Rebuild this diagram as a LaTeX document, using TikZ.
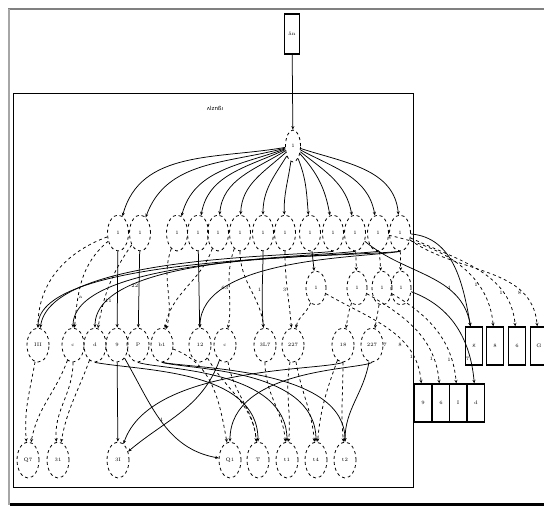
\documentclass[tikz,border=0pt]{standalone}
\usepackage{fontspec}
\newfontfamily\dvfont{DejaVu Sans}
\usetikzlibrary{shapes.geometric,arrows.meta}
\begin{document}
\begin{tikzpicture}[x=1pt,y=-1pt,
  tx/.style={font=\fontsize{5}{6}\selectfont},
  el/.style={ellipse,draw,dashed,line width=0.8pt,inner sep=0pt,tx},
  ra/.style={el,minimum width=21pt,minimum height=36pt},
  rb/.style={el,minimum width=20pt,minimum height=34pt},
  rc/.style={el,minimum width=22pt,minimum height=34pt},
  rd/.style={el,minimum width=22pt,minimum height=36pt},
  bx/.style={rectangle,draw,line width=1.3pt,minimum width=17pt,minimum height=38pt,inner sep=0pt,tx},
  ed/.style={draw,line width=0.75pt,-{Stealth[length=3.5pt,width=3pt]}},
  dd/.style={ed,dashed},
  lb/.style={tx,inner sep=0.5pt}]
\useasboundingbox (0,0) rectangle (544,512);
% frames
\draw[gray,line width=1.2pt] (8,9) -- (544,9);
\draw[gray!70,line width=1.5pt] (9,9) -- (9,505);
\draw[line width=3pt] (10,504) -- (544,504);
\draw[line width=0.9pt] (13,93) rectangle (413,487);
\node[tx] (cl) at (215,108) {{\dvfont\fontsize{5.5}{7}\selectfont ʌlznßı}};
% top node
\node[rectangle,draw,line width=0.4pt,minimum width=15pt,minimum height=40pt,tx] (top) at (292,34) {ån};
\draw[line width=2pt] (top.north west) -- (top.north east);
\draw[line width=2pt] (top.south west) -- (top.south east);
% root
\node[el,minimum width=15pt,minimum height=32pt] (r) at (293,146) {1};
\draw[ed] (top) -- (r);
% row 1
\foreach \n/\x in {1/118,2/140,3/177,4/198,5/218,6/240,7/263,8/285,9/310,10/333,11/355,12/378,13/400}
  \node[ra] (a\n) at (\x,233) {1};
% row 2
\foreach \n/\x in {1/316,2/357,3/382,4/401}
  \node[rb] (b\n) at (\x,288) {1};
% row 3
\foreach \n/\x/\t in {1/38/III,2/73/c,3/95/d,4/117/9,5/138/P,6/162/b1,7/200/12,8/225/c,9/265/3L7,10/293/227,11/343/18,12/372/227}
  \node[rc] (c\n) at (\x,345) {\t};
% bottom
\foreach \n/\x/\t in {1/28/Q7,2/58/31,3/118/3I,4/230/Q1,5/258/T,6/287/t1,7/316/t4,8/345/t2}
  \node[rd] (d\n) at (\x,460) {\t};
% boxes
\foreach \n/\x/\t in {1/474/g,2/495/8,3/517/6,4/539/G}
  \node[bx] (e\n) at (\x,346) {\t};
\foreach \n/\x/\t in {1/423/9,2/441/6,3/458/I,4/476/d}
  \node[bx] (f\n) at (\x,403) {\t};
% root -> row1
\draw[ed] (r) to[out=190,in=75] (a1);
\draw[ed] (r) to[out=195,in=70] (a2);
\draw[ed] (r) to[out=200,in=75] (a3);
\draw[ed] (r) to[out=205,in=80] (a4);
\draw[ed] (r) to[out=212,in=85] (a5);
\draw[ed] (r) to[out=222,in=88] (a6);
\draw[ed] (r) to[out=238,in=90] (a7);
\draw[ed] (r) to[out=262,in=92] (a8);
\draw[ed] (r) to[out=292,in=95] (a9);
\draw[ed] (r) to[out=312,in=100] (a10);
\draw[ed] (r) to[out=322,in=100] (a11);
\draw[ed] (r) to[out=332,in=100] (a12);
\draw[ed] (r) to[out=342,in=95] (a13);
% row1 -> boxes
\draw[ed] (a13) to[out=-5,in=100] (e1);
\draw[dd] (a12) to[out=-12,in=95] node[lb,pos=0.7,left]{1} (e2);
\draw[dd] (a13) to[out=-25,in=95] node[lb,pos=0.75,left]{1} (e3);
\draw[dd] (a13) to[out=-35,in=95] node[lb,pos=0.75,left]{8} (e4);
\draw[ed] (a11) to[out=-40,in=100] node[lb,pos=0.65,right]{4} (e1);
% row1 -> row2
\draw[ed] (a9) -- (b1);
\draw[dd] (a11) -- (b2);
\draw[dd] (a12) -- (b3);
\draw[dd] (a13) -- (b4);
% row2 -> lower boxes
\draw[dd] (b1) to[out=-30,in=95] node[lb,pos=0.8,left]{1} (f1);
\draw[dd] (b2) to[out=-30,in=95] node[lb,pos=0.8,left]{1} (f2);
\draw[dd] (b3) to[out=-30,in=95] node[lb,pos=0.8,left]{1} (f3);
\draw[ed] (b4) to[out=-20,in=95] node[lb,pos=0.8,left]{7} (f4);
% row2 -> row3
\draw[dd] (b1) to[out=250,in=80] (c10);
\draw[dd] (b2) to[out=250,in=80] (c11);
\draw[dd] (b3) to[out=260,in=80] (c12);
% row1 -> row3
\draw[dd] (a1) to[out=200,in=90] (c1);
\draw[dd] (a1) to[out=220,in=85] node[lb,pos=0.7,right]{a} (c2);
\draw[dd] (a2) to[out=235,in=80] node[lb,pos=0.7,right]{11} (c3);
\draw[ed] (a1) -- (c4);
\draw[ed] (a2) -- node[lb,pos=0.45,left]{22} (c5);
\draw[dd] (a3) to[out=250,in=75] (c6);
\draw[ed] (a4) -- (c7);
\draw[dd] (a6) to[out=250,in=80] node[lb,pos=0.5,left]{63} (c8);
\draw[dd] (a6) to[out=270,in=95] (c9);
\draw[ed] (a7) to[out=270,in=95] node[lb,pos=0.5,left]{1} (c9);
\draw[dd] (a8) to[out=270,in=95] node[lb,pos=0.5,left]{3} (c10);
\draw[dd] (a5) to[out=250,in=80] (c6);
% long bundle below row 1
\draw[ed] (a13.south) .. controls (330,258) and (38,256) .. (c1);
\draw[ed] (a12.south) .. controls (320,258) and (73,257) .. (c2);
\draw[ed] (a11.south) .. controls (300,258) and (95,258) .. (c3);
\draw[ed] (a10.south) .. controls (280,257) and (50,257) .. (c1);
\draw[ed] (a13.south) .. controls (360,258) and (200,258) .. (c7);
% row3 -> bottom
\draw[dd] (c1) to[out=260,in=95] (d1);
\draw[dd] (c2) to[out=250,in=80] (d1);
\draw[dd] (c2) to[out=270,in=95] (d2);
\draw[dd] (c3) to[out=250,in=80] (d2);
\draw[ed] (c4) -- (d3);
\draw[ed] (c4) to[out=-60,in=170] node[lb,pos=0.5,above]{1} (d4);
\draw[ed] (c8) to[out=250,in=40] (d3);
\draw[dd] (c6) to[out=-20,in=100] (d4);
\draw[dd] (c7) to[out=-60,in=95] (d5);
\draw[dd] (c8) to[out=-80,in=95] (d5);
\draw[dd] (c9) to[out=-90,in=95] (d6);
\draw[dd] (c10) to[out=-100,in=85] (d6);
\draw[dd] (c10) to[out=-80,in=95] (d7);
\draw[dd] (c11) to[out=-110,in=85] (d7);
\draw[ed] (c12) to[out=-100,in=90] (d8);
\draw[dd] (c11) to[out=-90,in=95] (d8);
% bundle below row 3
\draw[ed] (c5.south) .. controls (160,370) and (287,368) .. (d6);
\draw[ed] (c6.south) .. controls (190,370) and (316,368) .. (d7);
\draw[ed] (c3.south) .. controls (140,371) and (258,369) .. (d5);
\draw[ed] (c12.south) .. controls (360,370) and (230,368) .. (d4);
\draw[ed] (c11.south) .. controls (320,371) and (150,366) .. (d3);
\draw[ed] (c6.south) .. controls (200,369) and (345,369) .. (d8);
\node[lb] (l1) at (385,345) {7};
\node[lb] (l2) at (400,345) {8};
\end{tikzpicture}
\end{document}
